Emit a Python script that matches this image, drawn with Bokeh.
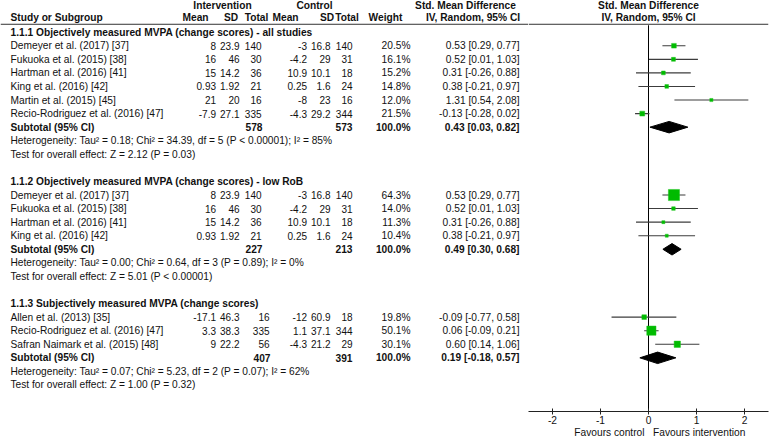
from bokeh.plotting import figure
from bokeh.layouts import row
from bokeh.models import Range1d, FixedTicker, ColumnDataSource
from bokeh.embed import file_html
from bokeh.resources import INLINE
from bokeh.core.properties import value

# ---------------- data ----------------
group_titles = [
    "1.1.1 Objectively measured MVPA (change scores) - all studies",
    "1.1.2 Objectively measured MVPA (change scores) - low RoB",
    "1.1.3 Subjectively measured MVPA (change scores)",
]

g1_study = ["Demeyer et al. (2017) [37]", "Fukuoka et al. (2015) [38]", "Hartman et al. (2016) [41]",
            "King et al. (2016) [42]", "Martin et al. (2015) [45]", "Recio-Rodriguez et al. (2016) [47]"]
g1_int_mean = [8, 16, 15, 0.93, 21, -7.9]
g1_int_sd = [23.9, 46, 14.2, 1.92, 20, 27.1]
g1_int_n = [140, 30, 36, 21, 16, 335]
g1_ctl_mean = [-3, -4.2, 10.9, 0.25, -8, -4.3]
g1_ctl_sd = [16.8, 29, 10.1, 1.6, 23, 29.2]
g1_ctl_n = [140, 31, 18, 24, 16, 344]
g1_weight = [20.5, 16.1, 15.2, 14.8, 12.0, 21.5]
g1_smd = [0.53, 0.52, 0.31, 0.38, 1.31, -0.13]
g1_lo = [0.29, 0.01, -0.26, -0.21, 0.54, -0.28]
g1_hi = [0.77, 1.03, 0.88, 0.97, 2.08, 0.02]
# subtotal: int total, ctl total, weight, smd, lo, hi
g1_sub = [578, 573, 100.0, 0.43, 0.03, 0.82]
g1_het = "Heterogeneity: Tau\u00b2 = 0.18; Chi\u00b2 = 34.39, df = 5 (P < 0.00001); I\u00b2 = 85%"
g1_test = "Test for overall effect: Z = 2.12 (P = 0.03)"

g2_study = ["Demeyer et al. (2017) [37]", "Fukuoka et al. (2015) [38]", "Hartman et al. (2016) [41]",
            "King et al. (2016) [42]"]
g2_int_mean = [8, 16, 15, 0.93]
g2_int_sd = [23.9, 46, 14.2, 1.92]
g2_int_n = [140, 30, 36, 21]
g2_ctl_mean = [-3, -4.2, 10.9, 0.25]
g2_ctl_sd = [16.8, 29, 10.1, 1.6]
g2_ctl_n = [140, 31, 18, 24]
g2_weight = [64.3, 14.0, 11.3, 10.4]
g2_smd = [0.53, 0.52, 0.31, 0.38]
g2_lo = [0.29, 0.01, -0.26, -0.21]
g2_hi = [0.77, 1.03, 0.88, 0.97]
g2_sub = [227, 213, 100.0, 0.49, 0.30, 0.68]
g2_het = "Heterogeneity: Tau\u00b2 = 0.00; Chi\u00b2 = 0.64, df = 3 (P = 0.89); I\u00b2 = 0%"
g2_test = "Test for overall effect: Z = 5.01 (P < 0.00001)"

g3_study = ["Allen et al. (2013) [35]", "Recio-Rodriguez et al. (2016) [47]", "Safran Naimark et al. (2015) [48]"]
g3_int_mean = [-17.1, 3.3, 9]
g3_int_sd = [46.3, 38.3, 22.2]
g3_int_n = [16, 335, 56]
g3_ctl_mean = [-12, 1.1, -4.3]
g3_ctl_sd = [60.9, 37.1, 21.2]
g3_ctl_n = [18, 344, 29]
g3_weight = [19.8, 50.1, 30.1]
g3_smd = [-0.09, 0.06, 0.60]
g3_lo = [-0.77, -0.09, 0.14]
g3_hi = [0.58, 0.21, 1.06]
g3_sub = [407, 391, 100.0, 0.19, -0.18, 0.57]
g3_het = "Heterogeneity: Tau\u00b2 = 0.07; Chi\u00b2 = 5.23, df = 2 (P = 0.07); I\u00b2 = 62%"
g3_test = "Test for overall effect: Z = 1.00 (P = 0.32)"

axis_ticks = [-2, -1, 0, 1, 2]
axis_tick_labels = ["-2", "-1", "0", "1", "2"]
favours_left = "Favours control"
favours_right = "Favours intervention"

groups = [
    (g1_study, g1_int_mean, g1_int_sd, g1_int_n, g1_ctl_mean, g1_ctl_sd, g1_ctl_n,
     g1_weight, g1_smd, g1_lo, g1_hi, g1_sub, g1_het, g1_test),
    (g2_study, g2_int_mean, g2_int_sd, g2_int_n, g2_ctl_mean, g2_ctl_sd, g2_ctl_n,
     g2_weight, g2_smd, g2_lo, g2_hi, g2_sub, g2_het, g2_test),
    (g3_study, g3_int_mean, g3_int_sd, g3_int_n, g3_ctl_mean, g3_ctl_sd, g3_ctl_n,
     g3_weight, g3_smd, g3_lo, g3_hi, g3_sub, g3_het, g3_test),
]

# ---------------- layout / style ----------------
FONT = value("Liberation Sans")
FS = value("10.2px")
FS_NUM = value("10px")
ROW0, DY = 32.0, 13.7
AXIS_Y = 415
BOTTOM = 29
# column right edges (in layout units)
C_IM, C_ISD, C_CM, C_CSD, C_CN, C_W, C_CI = 215.5, 239, 306.5, 330, 352, 410, 519
int_total_x = [261, 261, 269]

yr = Range1d(start=AXIS_Y, end=0)

left = figure(width=528, height=440, x_range=Range1d(0, 528), y_range=yr,
              output_backend="svg", toolbar_location=None,
              x_axis_location=None, y_axis_location=None,
              min_border=0, min_border_bottom=BOTTOM)
right = figure(width=250, height=440, x_range=Range1d(-2.5, 2.5), y_range=yr,
               output_backend="svg", toolbar_location=None,
               x_axis_location="below", y_axis_location=None,
               min_border=0, min_border_bottom=BOTTOM, min_border_right=10)
for p in (left, right):
    p.grid.visible = False
    p.outline_line_color = None
    p.background_fill_color = "white"
    p.border_fill_color = "white"

texts = {}  # (fig, align, bold, size) -> lists


def add_text(fig, x, y, t, align="left", bold=False, num=False):
    key = (fig, align, bold, num)
    d = texts.setdefault(key, {"x": [], "y": [], "t": []})
    d["x"].append(x)
    d["y"].append(y)
    d["t"].append(t)


# headers
add_text("L", 222, 5, "Intervention", "center", True)
add_text("L", 314, 5, "Control", "center", True)
add_text("L", 465, 5, "Std. Mean Difference", "center", True)
add_text("L", 10, 17, "Study or Subgroup", "left", True)
for x, t in [(195, "Mean"), (230.5, "SD"), (256, "Total"), (285, "Mean"), (326.5, "SD"),
             (346.5, "Total"), (385, "Weight"), (472.5, "IV, Random, 95% CI")]:
    add_text("L", x, 17, t, "center", True)
add_text("R", 0, 5, "Std. Mean Difference", "center", True)
add_text("R", 0, 17, "IV, Random, 95% CI", "center", True)

left.segment(x0=[0], x1=[528], y0=[24], y1=[24], line_color="#333333", line_width=1)
right.segment(x0=[-2.5], x1=[2.5], y0=[24], y1=[24], line_color="#333333", line_width=1)
right.segment(x0=[0], x1=[0], y0=[25], y1=[AXIS_Y], line_color="black", line_width=1)

ci_x0, ci_x1, ci_y = [], [], []
sq_x, sq_y, sq_s = [], [], []
dm_xs, dm_ys = [], []


def ci_str(e, lo, hi):
    return f"{e:.2f} [{lo:.2f}, {hi:.2f}]"


idx = 0
for gi, g in enumerate(groups):
    (study, im, isd, inn, cm, csd, cn, w, smd, lo, hi, sub, het, test) = g
    y = ROW0 + idx * DY
    add_text("L", 10, y, group_titles[gi], "left", True)
    for k in range(len(study)):
        y = ROW0 + (idx + 1 + k) * DY
        add_text("L", 10, y, study[k])
        add_text("L", C_IM, y, str(im[k]), "right", num=True)
        add_text("L", C_ISD, y, str(isd[k]), "right", num=True)
        add_text("L", int_total_x[gi], y, str(inn[k]), "right", num=True)
        add_text("L", C_CM, y, str(cm[k]), "right", num=True)
        add_text("L", C_CSD, y, str(csd[k]), "right", num=True)
        add_text("L", C_CN, y, str(cn[k]), "right", num=True)
        add_text("L", C_W, y, f"{w[k]:.1f}%", "right")
        add_text("L", C_CI, y, ci_str(smd[k], lo[k], hi[k]), "right")
        ci_x0.append(lo[k]); ci_x1.append(hi[k]); ci_y.append(y)
        sq_x.append(smd[k]); sq_y.append(y); sq_s.append(max(3.0, 0.49 * w[k] ** 0.75))
    n = len(study)
    y = ROW0 + (idx + n + 1) * DY
    add_text("L", 10, y, "Subtotal (95% CI)", "left", True)
    add_text("L", int_total_x[gi] + 1, y, str(sub[0]), "right", True)
    add_text("L", C_CN, y, str(sub[1]), "right", True)
    add_text("L", C_W, y, f"{sub[2]:.1f}%", "right", True)
    add_text("L", C_CI, y, ci_str(sub[3], sub[4], sub[5]), "right", True)
    dm_xs.append([sub[4], sub[3], sub[5], sub[3]])
    dm_ys.append([y, y - 5.8, y, y + 5.8])
    add_text("L", 10, ROW0 + (idx + n + 2) * DY, het)
    add_text("L", 10, ROW0 + (idx + n + 3) * DY, test)
    idx += n + 5

right.segment(x0=ci_x0, x1=ci_x1, y0=ci_y, y1=ci_y, line_color="#3c3c3c", line_width=1.1)
right.scatter(x=sq_x, y=sq_y, size=sq_s, marker="square", fill_color="#00BB00",
              line_color="#1FC41F", line_width=0.5)
right.patches(xs=dm_xs, ys=dm_ys, fill_color="black", line_color="black")

for (fig, align, bold, num), d in texts.items():
    p = left if fig == "L" else right
    p.text(x="x", y="y", text="t", source=ColumnDataSource(d), text_align=align,
           text_baseline="middle", text_font=FONT, text_font_size=FS_NUM if num else FS,
           text_font_style="bold" if bold else "normal", text_color="#111111")

ax = right.xaxis[0]
ax.ticker = FixedTicker(ticks=axis_ticks)
ax.major_label_overrides = {t: lab for t, lab in zip(axis_ticks, axis_tick_labels)}
ax.minor_tick_line_color = None
ax.major_tick_in = 3
ax.major_tick_out = 3
ax.major_label_standoff = 1
ax.axis_line_color = "#222222"
ax.major_tick_line_color = "#222222"
ax.major_label_text_font = "Liberation Sans"
ax.major_label_text_font_size = "10.2px"
ax.major_label_text_color = "#111111"
ax.axis_label = "\u00a0" * 8 + favours_left + "\u00a0" * 3 + favours_right
ax.axis_label_text_font = "Liberation Sans"
ax.axis_label_text_font_size = "10.2px"
ax.axis_label_text_font_style = "normal"
ax.axis_label_text_color = "#111111"
ax.axis_label_standoff = 0

layout = row(left, right, spacing=0)
open("out.html", "w").write(file_html(layout, INLINE))
